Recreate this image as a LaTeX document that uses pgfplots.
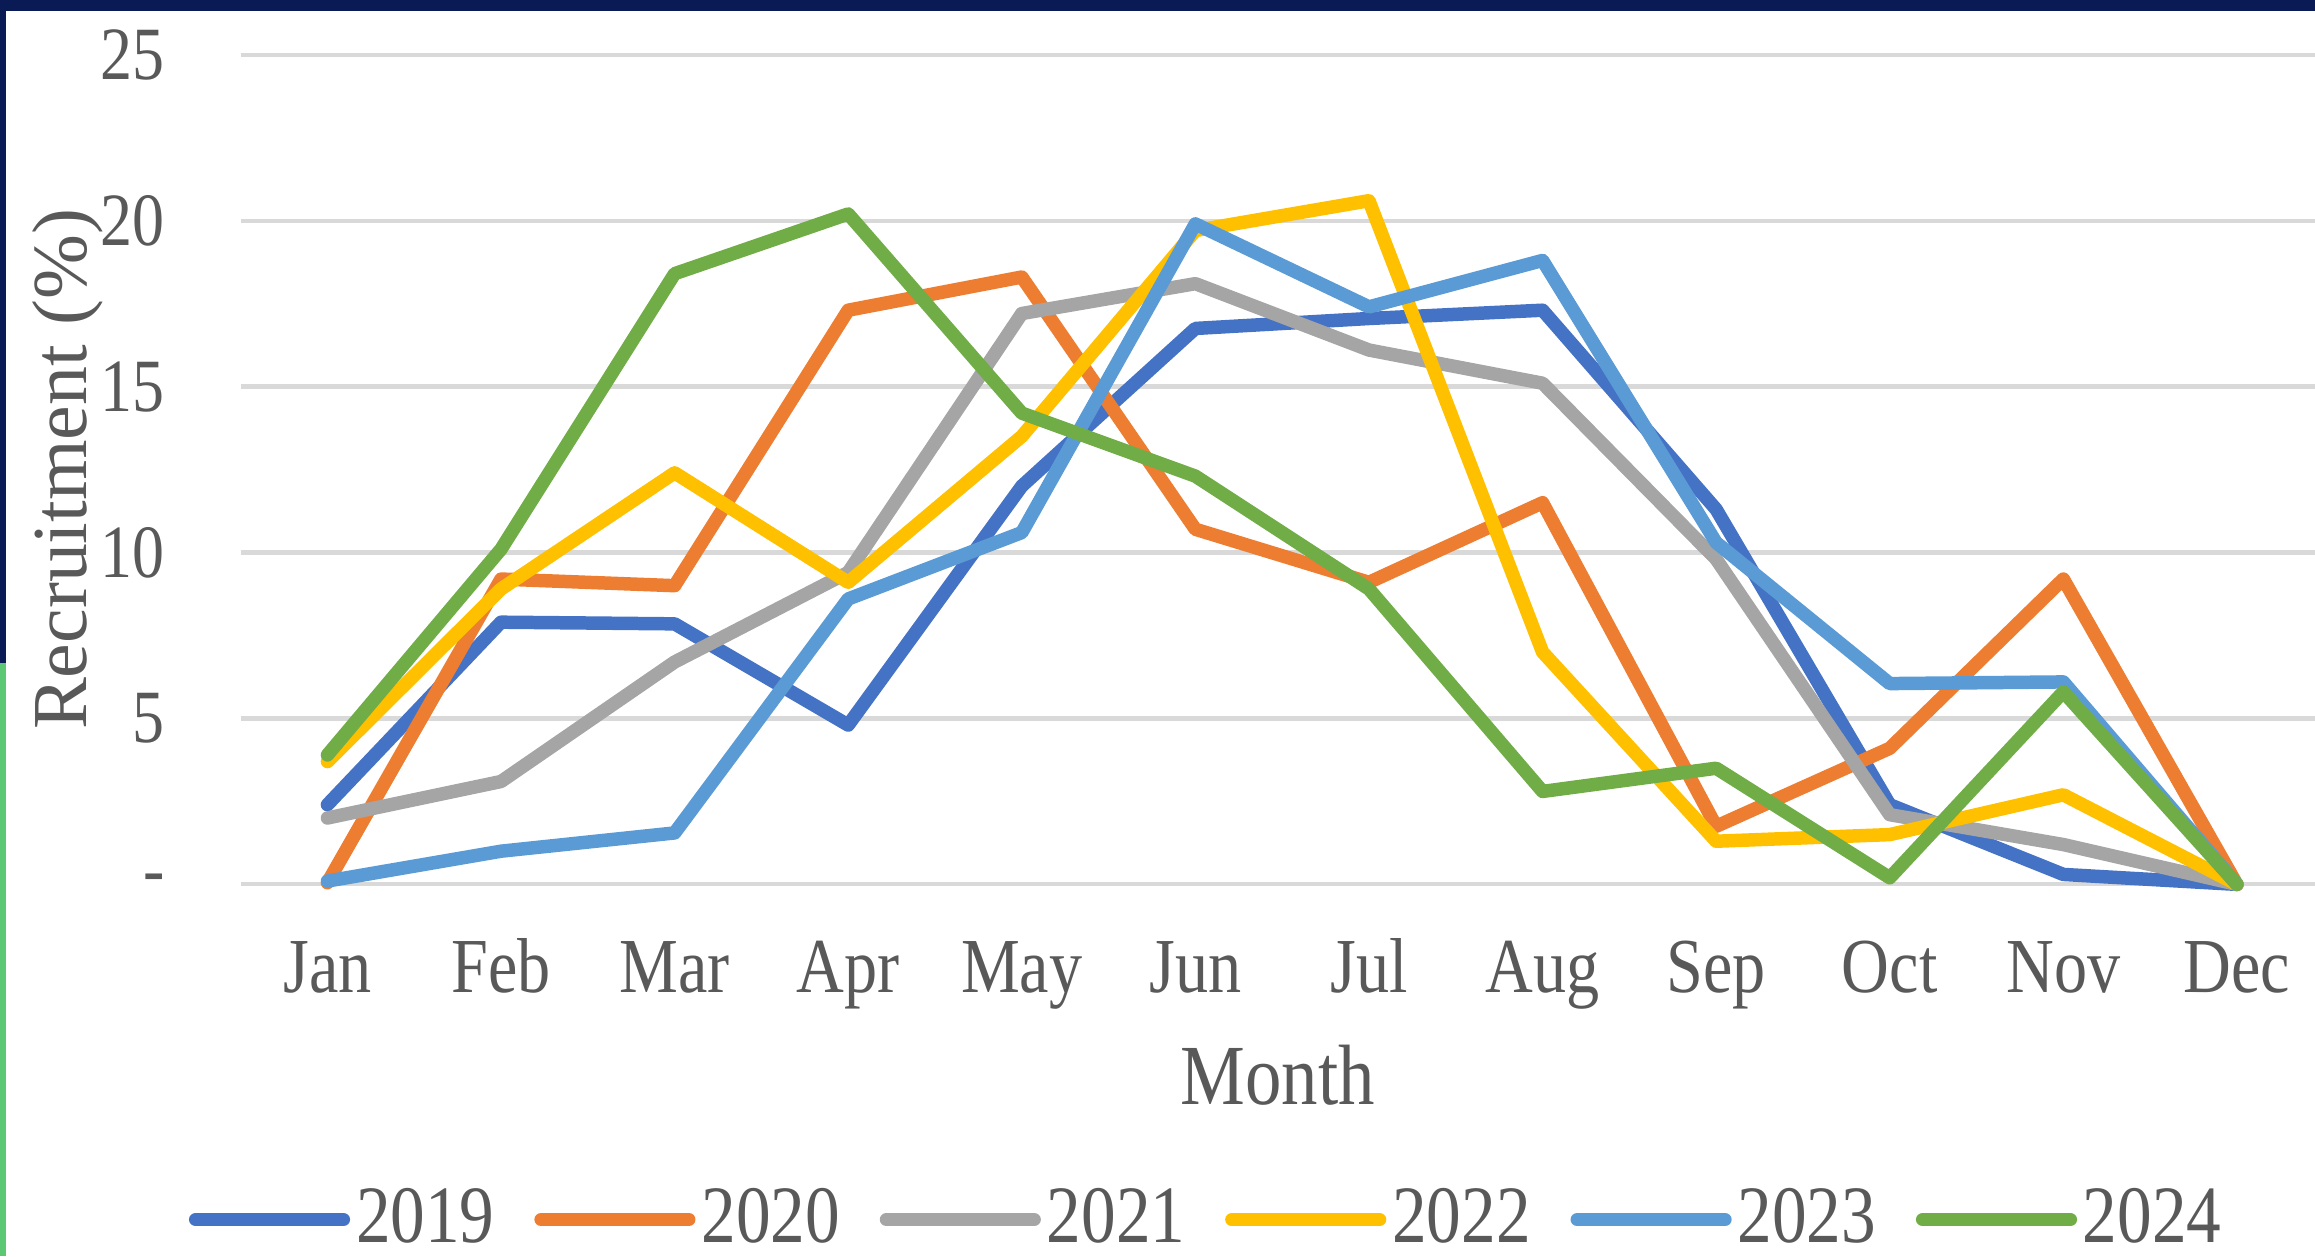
\documentclass[border=0pt]{standalone}
\usepackage{pgfplots}
\pgfplotsset{compat=1.18}
\usepackage{fontspec}
\setmainfont{Liberation Serif}[FakeStretch=0.85]
\newfontfamily\ylabfont{Liberation Serif}
\definecolor{c2019}{HTML}{4472C4}
\definecolor{c2020}{HTML}{ED7D31}
\definecolor{c2021}{HTML}{A5A5A5}
\definecolor{c2022}{HTML}{FFC000}
\definecolor{c2023}{HTML}{5B9BD5}
\definecolor{c2024}{HTML}{70AD47}
\definecolor{txt}{HTML}{595959}
\definecolor{gridc}{HTML}{D9D9D9}
\definecolor{navy}{HTML}{0A1A55}
\definecolor{sidegreen}{HTML}{5CC873}
\begin{document}
\begin{tikzpicture}
\begin{axis}[
  at={(0,0)}, anchor=south west,
  scale only axis,
  width=14.05cm, height=5.62cm,
  xmin=-0.5, xmax=11.45,
  ymin=0, ymax=25,
  clip=false,
  axis line style={draw=none},
  tick style={draw=none},
  xtick={0,...,11},
  xticklabels={Jan,Feb,Mar,Apr,May,Jun,Jul,Aug,Sep,Oct,Nov,Dec},
  ytick={0,5,10,15,20,25},
  yticklabels={-,5,10,15,20,25},
  /pgf/number format/assume math mode=true,
  ymajorgrids,
  major grid style={color=gridc, line width=0.8pt},
  xticklabel style={anchor=base, inner sep=0pt, yshift=-0.73cm, font=\fontsize{15}{18}\selectfont, text=txt},
  yticklabel style={anchor=east, inner sep=0pt, xshift=-0.51cm, font=\fontsize{14.5}{17}\selectfont, text=txt},
  xlabel={Month},
  xlabel style={at={(axis description cs:0.5,0)}, anchor=base, yshift=-1.49cm, inner sep=0pt, font=\fontsize{16.5}{19}\selectfont, text=txt},
  ylabel={\ylabfont Recruitment (\%)},
  ylabel style={at={(axis description cs:-0.0833,0.5)}, anchor=center, inner sep=0pt, font=\fontsize{15}{18}\selectfont, text=txt},
  legend columns=6,
  legend style={draw=none, fill=none, inner sep=0pt,
    at={(axis description cs:0.465,-0.404)}, anchor=center,
    font=\fontsize{15.7}{19}\selectfont, text=txt,
    nodes={inner sep=0pt},
    /tikz/every odd column/.append style={column sep=0.04cm},
    /tikz/every even column/.append style={column sep=0.27cm}},
  legend image code/.code={\draw[#1] (0cm,0cm) -- (1.0cm,0cm);},
  every axis plot/.append style={line width=2.6pt, line join=round, line cap=round},
]
\addplot[c2019] coordinates {(0,2.4) (1,7.9) (2,7.85) (3,4.8) (4,12.0) (5,16.75) (6,17.05) (7,17.3) (8,11.3) (9,2.4) (10,0.3) (11,0)};
\addlegendentry{2019}
\addplot[c2020] coordinates {(0,0.05) (1,9.2) (2,9.0) (3,17.3) (4,18.3) (5,10.7) (6,9.1) (7,11.5) (8,1.75) (9,4.1) (10,9.2) (11,0)};
\addlegendentry{2020}
\addplot[c2021] coordinates {(0,2.0) (1,3.1) (2,6.7) (3,9.4) (4,17.2) (5,18.1) (6,16.1) (7,15.1) (8,9.8) (9,2.1) (10,1.2) (11,0)};
\addlegendentry{2021}
\addplot[c2022] coordinates {(0,3.7) (1,8.9) (2,12.4) (3,9.1) (4,13.5) (5,19.7) (6,20.6) (7,7.0) (8,1.3) (9,1.5) (10,2.7) (11,0)};
\addlegendentry{2022}
\addplot[c2023] coordinates {(0,0.1) (1,1.0) (2,1.55) (3,8.6) (4,10.6) (5,19.9) (6,17.4) (7,18.8) (8,10.3) (9,6.05) (10,6.1) (11,0)};
\addlegendentry{2023}
\addplot[c2024] coordinates {(0,3.9) (1,10.1) (2,18.4) (3,20.2) (4,14.2) (5,12.3) (6,8.9) (7,2.8) (8,3.5) (9,0.2) (10,5.8) (11,0)};
\addlegendentry{2024}
\end{axis}
\fill[navy] (-1.63,5.915) rectangle (14.05,5.99);
\fill[navy] (-1.63,5.99) rectangle (-1.59,1.50);
\fill[sidegreen] (-1.63,1.50) rectangle (-1.59,-2.52);
\pgfresetboundingbox
\useasboundingbox (-1.63,-2.52) rectangle (14.05,5.99);
\end{tikzpicture}
\end{document}
